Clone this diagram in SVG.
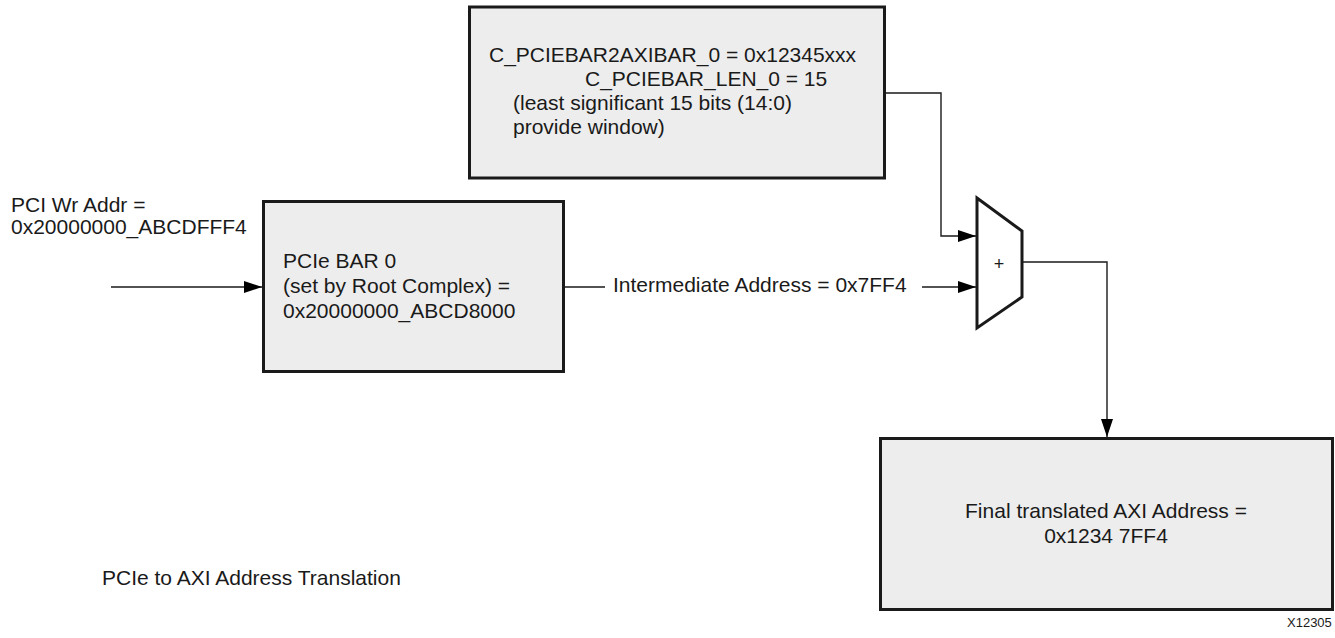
<svg xmlns="http://www.w3.org/2000/svg" width="1335" height="638" viewBox="0 0 1335 638">
<style>
  .box { fill: #ededed; stroke: #1a1a1a; stroke-width: 3; }
  .mux { fill: #ffffff; stroke: #1a1a1a; stroke-width: 3; stroke-linejoin: miter; }
  .conn { fill: none; stroke: #1a1a1a; stroke-width: 1.4; }
  .t { font-family: "Liberation Sans", Arial, sans-serif; font-size: 21px; fill: #1a1a1a; }
  .small { font-family: "Liberation Sans", Arial, sans-serif; font-size: 13px; fill: #1a1a1a; }
</style>
<defs>
  <marker id="arrow" markerUnits="userSpaceOnUse" markerWidth="18" markerHeight="12" refX="18" refY="6" orient="auto">
    <path d="M0,0 L18,6 L0,12 z" fill="#000000"/>
  </marker>
</defs>
<rect width="1335" height="638" fill="#ffffff"/>

<g id="connectors">
  <path class="conn" d="M886,93 H941 V236 H976" marker-end="url(#arrow)"/>
  <path class="conn" d="M111,287 H262" marker-end="url(#arrow)"/>
  <path class="conn" d="M565,287 H605"/>
  <path class="conn" d="M922,287 H976" marker-end="url(#arrow)"/>
  <path class="conn" d="M1023,262 H1107 V437" marker-end="url(#arrow)"/>
  <text class="t" x="613" y="292">Intermediate Address = 0x7FF4</text>
</g>

<g id="bar2axibar">
  <rect class="box" x="469.5" y="7" width="415" height="171"/>
  <text class="t" x="489" y="62">C_PCIEBAR2AXIBAR_0 = 0x12345xxx</text>
  <text class="t" x="585" y="86">C_PCIEBAR_LEN_0 = 15</text>
  <text class="t" x="513" y="110">(least significant 15 bits (14:0)</text>
  <text class="t" x="513" y="134">provide window)</text>
</g>

<g id="pci-wr-addr">
  <text class="t" x="11" y="212">PCI Wr Addr =</text>
  <text class="t" x="11" y="234">0x20000000_ABCDFFF4</text>
</g>

<g id="pcie-bar0">
  <rect class="box" x="263.5" y="201.5" width="300" height="170"/>
  <text class="t" x="283" y="268">PCIe BAR 0</text>
  <text class="t" x="283" y="293">(set by Root Complex) =</text>
  <text class="t" x="283" y="318">0x20000000_ABCD8000</text>
</g>

<g id="adder">
  <polygon class="mux" points="977,198 1022,231 1022,297 977,328"/>
  <text class="t" x="999" y="270" text-anchor="middle" style="font-size:18px">+</text>
</g>

<g id="final-axi">
  <rect class="box" x="880.5" y="438.5" width="452" height="171"/>
  <text class="t" x="1106" y="518" text-anchor="middle">Final translated AXI Address =</text>
  <text class="t" x="1106" y="543" text-anchor="middle">0x1234 7FF4</text>
</g>

<g id="caption">
  <text class="t" x="102" y="585">PCIe to AXI Address Translation</text>
  <text class="small" x="1287" y="627">X12305</text>
</g>
</svg>
